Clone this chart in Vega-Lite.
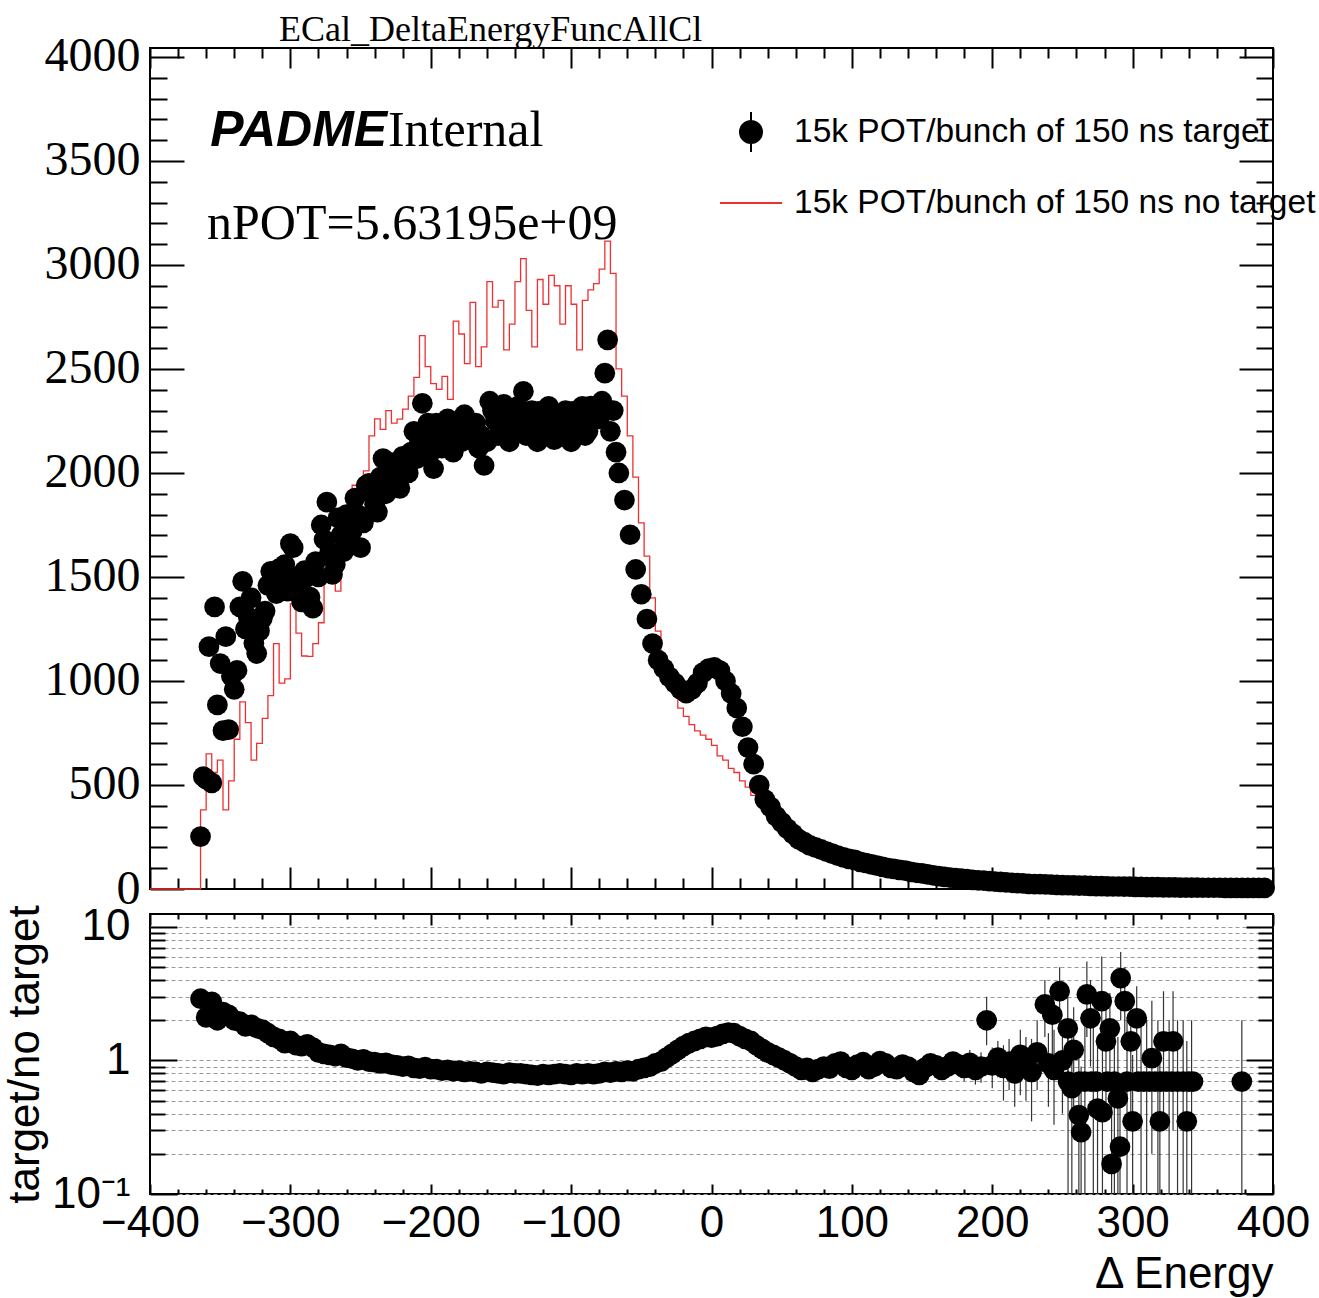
{
  "$schema": "https://vega.github.io/schema/vega-lite/v6.json",
  "background": "white",
  "padding": {"left": 2, "right": 2, "top": 10, "bottom": 0},
  "spacing": 25,
  "bounds": "flush",
  "config": {
    "view": {"stroke": "black", "strokeWidth": 2},
    "axis": {"tickColor": "black", "tickWidth": 2, "domain": false, "labelColor": "black", "titleColor": "black", "labelOverlap": false, "labelBound": false, "labelFlush": false}
  },
  "datasets": {
    "black": [
      {"x":-364,"v":252},{"x":-362,"v":540},{"x":-360,"v":528},{"x":-358,"v":1165},{"x":-356,"v":510},{"x":-354,"v":1356},{"x":-352,"v":885},{"x":-350,"v":1084},{"x":-348,"v":761},{"x":-346,"v":1213},{"x":-344,"v":766},{"x":-342,"v":1023},{"x":-340,"v":960},{"x":-338,"v":1051},{"x":-336,"v":1356},{"x":-334,"v":1479},{"x":-332,"v":1250},{"x":-330,"v":1308},{"x":-328,"v":1400},{"x":-326,"v":1180},{"x":-324,"v":1132},{"x":-322,"v":1241},{"x":-320,"v":1300},{"x":-318,"v":1336},{"x":-316,"v":1460},{"x":-314,"v":1527},{"x":-312,"v":1500},{"x":-310,"v":1420},{"x":-308,"v":1540},{"x":-306,"v":1479},{"x":-304,"v":1560},{"x":-302,"v":1432},{"x":-300,"v":1660},{"x":-298,"v":1641},{"x":-296,"v":1500},{"x":-294,"v":1465},{"x":-292,"v":1380},{"x":-290,"v":1530},
      {"x":-288,"v":1500},{"x":-286,"v":1403},{"x":-284,"v":1350},{"x":-282,"v":1574},{"x":-280,"v":1500},{"x":-278,"v":1750},{"x":-276,"v":1680},{"x":-274,"v":1860},{"x":-272,"v":1620},{"x":-270,"v":1512},{"x":-268,"v":1560},{"x":-266,"v":1784},{"x":-264,"v":1700},{"x":-262,"v":1622},{"x":-260,"v":1800},{"x":-258,"v":1700},{"x":-256,"v":1720},{"x":-254,"v":1879},{"x":-252,"v":1800},{"x":-250,"v":1641},{"x":-248,"v":1760},{"x":-246,"v":1941},{"x":-244,"v":1950},{"x":-242,"v":1900},{"x":-240,"v":1850},{"x":-238,"v":1812},{"x":-236,"v":1980},{"x":-234,"v":2069},{"x":-232,"v":1900},{"x":-230,"v":1960},{"x":-228,"v":2050},{"x":-226,"v":2010},{"x":-224,"v":2000},{"x":-222,"v":1926},{"x":-220,"v":2080},{"x":-218,"v":2050},{"x":-216,"v":2000},{"x":-214,"v":2100},{"x":-212,"v":2200},{"x":-210,"v":2069},{"x":-208,"v":2150},{"x":-206,"v":2335},{"x":-204,"v":2150},{"x":-202,"v":2240},{"x":-200,"v":2100},{"x":-198,"v":2021},{"x":-196,"v":2240},{"x":-194,"v":2178},{"x":-192,"v":2120},{"x":-190,"v":2200},{"x":-188,"v":2260},{"x":-186,"v":2170},{"x":-184,"v":2100},{"x":-182,"v":2230},{"x":-180,"v":2190},{"x":-178,"v":2150},{"x":-176,"v":2280},{"x":-174,"v":2240},{"x":-172,"v":2160},{"x":-170,"v":2200},{"x":-168,"v":2240},{"x":-166,"v":2120},{"x":-164,"v":2180},{"x":-162,"v":2036},{"x":-160,"v":2150},{"x":-158,"v":2345},{"x":-156,"v":2300},{"x":-154,"v":2250},{"x":-152,"v":2180},{"x":-150,"v":2273},{"x":-148,"v":2330},{"x":-146,"v":2200},{"x":-144,"v":2150},{"x":-142,"v":2226},{"x":-140,"v":2260},{"x":-138,"v":2320},{"x":-136,"v":2240},{"x":-134,"v":2392},{"x":-132,"v":2180},{"x":-130,"v":2250},{"x":-128,"v":2300},{"x":-126,"v":2226},{"x":-124,"v":2150},{"x":-122,"v":2297},{"x":-120,"v":2260},{"x":-118,"v":2180},{"x":-116,"v":2320},{"x":-114,"v":2226},{"x":-112,"v":2160},{"x":-110,"v":2260},{"x":-108,"v":2200},{"x":-106,"v":2273},{"x":-104,"v":2300},{"x":-102,"v":2200},{"x":-100,"v":2150},{"x":-98,"v":2297},{"x":-96,"v":2250},{"x":-94,"v":2226},{"x":-92,"v":2320},{"x":-90,"v":2180},{"x":-88,"v":2200},{"x":-86,"v":2321},{"x":-84,"v":2290},{"x":-82,"v":2260},{"x":-80,"v":2260},{"x":-78,"v":2345},{"x":-76,"v":2480},{"x":-74,"v":2640},{"x":-72,"v":2200},{"x":-70,"v":2300},{"x":-68,"v":2100},{"x":-66,"v":2000},{"x":-62,"v":1870},{"x":-58,"v":1703},{"x":-54,"v":1536},{"x":-50,"v":1417},{"x":-46,"v":1298},{"x":-42,"v":1180},{"x":-38,"v":1100},{"x":-34,"v":1060},{"x":-30,"v":1020},{"x":-26,"v":990},{"x":-22,"v":960},{"x":-18,"v":942},{"x":-14,"v":960},{"x":-10,"v":990},{"x":-6,"v":1040},{"x":-2,"v":1060},{"x":2,"v":1065},{"x":6,"v":1050},{"x":10,"v":1000},{"x":14,"v":940},{"x":18,"v":870},{"x":22,"v":780},{"x":26,"v":680},{"x":30,"v":600},{"x":34,"v":500},{"x":38,"v":430},{"x":42,"v":395},{"x":46,"v":350},{"x":50,"v":320},{"x":54,"v":290},{"x":58,"v":265},{"x":62,"v":240},{"x":66,"v":225},{"x":70,"v":210},{"x":74,"v":200},{"x":78,"v":190},{"x":82,"v":180},{"x":86,"v":170},{"x":90,"v":160},{"x":94,"v":152},{"x":98,"v":145},{"x":102,"v":140},{"x":106,"v":130},{"x":110,"v":125},{"x":114,"v":118},{"x":118,"v":112},{"x":122,"v":106},{"x":126,"v":100},{"x":130,"v":97},{"x":134,"v":92},{"x":138,"v":88},{"x":142,"v":82},{"x":146,"v":78},{"x":150,"v":75},{"x":154,"v":70},{"x":158,"v":66},{"x":162,"v":62},{"x":166,"v":58},{"x":170,"v":55},{"x":174,"v":52},{"x":178,"v":50},{"x":182,"v":47},{"x":186,"v":44},{"x":190,"v":42},{"x":194,"v":40},{"x":198,"v":38},{"x":202,"v":36},{"x":206,"v":34},{"x":210,"v":32},{"x":214,"v":30},{"x":218,"v":28},{"x":222,"v":27},{"x":226,"v":25},{"x":230,"v":24},{"x":234,"v":23},{"x":238,"v":22},{"x":242,"v":21},{"x":246,"v":20},{"x":250,"v":19},{"x":254,"v":18},{"x":258,"v":17},{"x":262,"v":16},{"x":266,"v":16},{"x":270,"v":15},{"x":274,"v":14},{"x":278,"v":14},{"x":282,"v":13},{"x":286,"v":12},{"x":290,"v":12},{"x":294,"v":11},{"x":298,"v":11},{"x":302,"v":10},{"x":306,"v":10},{"x":310,"v":9},{"x":314,"v":9},{"x":318,"v":9},{"x":322,"v":8},{"x":326,"v":8},{"x":330,"v":8},{"x":334,"v":7},{"x":338,"v":7},{"x":342,"v":7},{"x":346,"v":7},{"x":350,"v":6},{"x":354,"v":6},{"x":358,"v":6},{"x":362,"v":6},{"x":366,"v":5},{"x":370,"v":5},{"x":374,"v":5},{"x":378,"v":5},{"x":382,"v":5},{"x":386,"v":5},{"x":390,"v":5},{"x":394,"v":5}
    ],
    "red": [
      {"x":-400,"v":0},{"x":-366,"v":0},{"x":-362,"v":380},{"x":-358,"v":650},{"x":-354,"v":560},{"x":-350,"v":620},{"x":-346,"v":380},{"x":-342,"v":520},{"x":-338,"v":720},{"x":-334,"v":900},{"x":-330,"v":800},{"x":-326,"v":620},{"x":-322,"v":700},{"x":-318,"v":820},{"x":-314,"v":930},{"x":-310,"v":1180},{"x":-306,"v":990},{"x":-302,"v":1010},{"x":-298,"v":1370},{"x":-294,"v":1230},{"x":-290,"v":1120},{"x":-286,"v":1118},{"x":-282,"v":1180},{"x":-278,"v":1280},{"x":-274,"v":1688},{"x":-270,"v":1550},{"x":-266,"v":1432},{"x":-262,"v":1655},{"x":-258,"v":1760},{"x":-254,"v":1941},{"x":-250,"v":1900},{"x":-246,"v":2010},{"x":-242,"v":2178},{"x":-238,"v":2260},{"x":-234,"v":2210},{"x":-230,"v":2300},{"x":-226,"v":2240},{"x":-222,"v":2259},{"x":-218,"v":2307},{"x":-214,"v":2369},{"x":-210,"v":2460},{"x":-206,"v":2660},{"x":-202,"v":2511},{"x":-198,"v":2430},{"x":-194,"v":2402},{"x":-190,"v":2464},{"x":-186,"v":2354},{"x":-182,"v":2730},{"x":-178,"v":2668},{"x":-174,"v":2526},{"x":-170,"v":2820},{"x":-166,"v":2511},{"x":-162,"v":2606},{"x":-158,"v":2920},{"x":-154,"v":2797},{"x":-150,"v":2830},{"x":-146,"v":2592},{"x":-142,"v":2716},{"x":-138,"v":2920},{"x":-134,"v":3030},{"x":-130,"v":2782},{"x":-126,"v":2606},{"x":-122,"v":2930},{"x":-118,"v":2811},{"x":-114,"v":2950},{"x":-110,"v":2900},{"x":-106,"v":2716},{"x":-102,"v":2900},{"x":-98,"v":2811},{"x":-94,"v":2592},{"x":-90,"v":2830},{"x":-86,"v":2880},{"x":-82,"v":2910},{"x":-78,"v":2980},{"x":-74,"v":3115},{"x":-70,"v":2960},{"x":-66,"v":2500},{"x":-62,"v":2369},{"x":-58,"v":2178},{"x":-54,"v":1980},{"x":-50,"v":1760},{"x":-46,"v":1600},{"x":-42,"v":1400},{"x":-38,"v":1240},{"x":-34,"v":1120},{"x":-30,"v":1000},{"x":-26,"v":950},{"x":-22,"v":870},{"x":-18,"v":830},{"x":-14,"v":790},{"x":-10,"v":760},{"x":-6,"v":740},{"x":-2,"v":720},{"x":2,"v":690},{"x":6,"v":640},{"x":10,"v":620},{"x":14,"v":580},{"x":18,"v":560},{"x":22,"v":520},{"x":26,"v":490},{"x":30,"v":450},{"x":34,"v":430},{"x":38,"v":390},{"x":42,"v":350},{"x":46,"v":320},{"x":50,"v":300},{"x":54,"v":275},{"x":58,"v":260},{"x":62,"v":250},{"x":70,"v":225},{"x":78,"v":205},{"x":86,"v":185},{"x":94,"v":165},{"x":102,"v":155},{"x":110,"v":140},{"x":118,"v":125},{"x":126,"v":112},{"x":134,"v":104},{"x":142,"v":94},{"x":150,"v":85},{"x":158,"v":76},{"x":166,"v":67},{"x":174,"v":60},{"x":182,"v":54},{"x":190,"v":48},{"x":198,"v":42},{"x":206,"v":38},{"x":214,"v":34},{"x":222,"v":30},{"x":230,"v":27},{"x":238,"v":24},{"x":246,"v":22},{"x":254,"v":20},{"x":262,"v":18},{"x":270,"v":16},{"x":278,"v":15},{"x":286,"v":14},{"x":294,"v":13},{"x":302,"v":12},{"x":310,"v":11},{"x":318,"v":10},{"x":326,"v":9},{"x":334,"v":9},{"x":342,"v":8},{"x":350,"v":8},{"x":358,"v":7},{"x":366,"v":7},{"x":374,"v":6},{"x":382,"v":6},{"x":390,"v":6},{"x":398,"v":6},{"x":400,"v":6}
    ],
    "ratio": [
      {"x":-364,"r":2.9},{"x":-360,"r":2.1},{"x":-356,"r":2.75},{"x":-352,"r":2.0},{"x":-348,"r":2.3},{"x":-344,"r":2.2},{"x":-340,"r":2.0},{"x":-336,"r":1.95},{"x":-332,"r":1.8},{"x":-328,"r":1.85},{"x":-324,"r":1.75},{"x":-320,"r":1.7},{"x":-316,"r":1.6},{"x":-312,"r":1.5},{"x":-308,"r":1.45},{"x":-304,"r":1.35},{"x":-300,"r":1.4},{"x":-296,"r":1.3},{"x":-292,"r":1.28},{"x":-288,"r":1.32},{"x":-284,"r":1.25},{"x":-280,"r":1.15},{"x":-276,"r":1.12},{"x":-272,"r":1.1},{"x":-268,"r":1.08},{"x":-264,"r":1.12},{"x":-260,"r":1.05},{"x":-256,"r":1.03},{"x":-252,"r":1.0},{"x":-248,"r":1.02},{"x":-244,"r":0.98},{"x":-240,"r":0.97},{"x":-236,"r":0.95},{"x":-232,"r":0.96},{"x":-228,"r":0.93},{"x":-224,"r":0.92},{"x":-220,"r":0.9},{"x":-216,"r":0.91},{"x":-212,"r":0.88},{"x":-208,"r":0.87},{"x":-204,"r":0.89},{"x":-200,"r":0.86},{"x":-196,"r":0.86},{"x":-192,"r":0.84},{"x":-188,"r":0.85},{"x":-184,"r":0.83},{"x":-180,"r":0.84},{"x":-176,"r":0.82},{"x":-172,"r":0.83},{"x":-168,"r":0.82},{"x":-164,"r":0.8},{"x":-160,"r":0.82},{"x":-156,"r":0.81},{"x":-152,"r":0.8},{"x":-148,"r":0.79},{"x":-144,"r":0.81},{"x":-140,"r":0.8},{"x":-136,"r":0.8},{"x":-132,"r":0.79},{"x":-128,"r":0.78},{"x":-124,"r":0.77},{"x":-120,"r":0.79},{"x":-116,"r":0.78},{"x":-112,"r":0.79},{"x":-108,"r":0.8},{"x":-104,"r":0.79},{"x":-100,"r":0.78},{"x":-96,"r":0.8},{"x":-92,"r":0.79},{"x":-88,"r":0.8},{"x":-84,"r":0.79},{"x":-80,"r":0.8},{"x":-76,"r":0.82},{"x":-72,"r":0.81},{"x":-68,"r":0.83},{"x":-64,"r":0.82},{"x":-60,"r":0.84},{"x":-56,"r":0.83},{"x":-52,"r":0.86},{"x":-48,"r":0.88},{"x":-44,"r":0.9},{"x":-40,"r":0.95},{"x":-36,"r":0.98},{"x":-32,"r":1.05},{"x":-28,"r":1.12},{"x":-24,"r":1.2},{"x":-20,"r":1.28},{"x":-16,"r":1.35},{"x":-12,"r":1.4},{"x":-8,"r":1.45},{"x":-4,"r":1.5},{"x":0,"r":1.48},{"x":4,"r":1.52},{"x":8,"r":1.58},{"x":12,"r":1.62},{"x":16,"r":1.6},{"x":20,"r":1.52},{"x":24,"r":1.45},{"x":28,"r":1.4},{"x":32,"r":1.3},{"x":36,"r":1.22},{"x":40,"r":1.15},{"x":44,"r":1.1},{"x":48,"r":1.05},{"x":52,"r":1.0},{"x":56,"r":0.95},{"x":60,"r":0.9},{"x":64,"r":0.85},{"x":68,"r":0.88},{"x":72,"r":0.82},{"x":76,"r":0.86},{"x":80,"r":0.9},{"x":84,"r":0.87},{"x":88,"r":0.95},{"x":92,"r":0.98},{"x":96,"r":0.88},{"x":100,"r":0.85},{"x":104,"r":0.93},{"x":108,"r":0.97},{"x":112,"r":0.86},{"x":116,"r":0.9},{"x":120,"r":0.99},{"x":124,"r":0.95},{"x":128,"r":0.88},{"x":132,"r":0.86},{"x":136,"r":0.93},{"x":140,"r":0.9},{"x":144,"r":0.82},{"x":148,"r":0.78},{"x":152,"r":0.88},{"x":156,"r":0.95},{"x":160,"r":0.92},{"x":164,"r":0.85},{"x":168,"r":0.9},{"x":172,"r":0.98},{"x":176,"r":0.93},{"x":180,"r":0.88},{"x":184,"r":0.96},{"x":188,"r":0.85},{"x":192,"r":0.9},{"x":196,"r":2.0},{"x":200,"r":0.92},{"x":204,"r":1.05},{"x":208,"r":0.88},{"x":212,"r":0.98},{"x":216,"r":0.8},{"x":220,"r":1.1},{"x":224,"r":0.95},{"x":228,"r":0.82},{"x":232,"r":1.15},{"x":237.5,"r":2.63},{"x":240,"r":0.95},{"x":242.8,"r":2.2},{"x":244,"r":0.85},{"x":248,"r":3.3},{"x":250,"r":1.0},{"x":253.8,"r":1.74},{"x":254,"r":0.695},{"x":256.7,"r":0.62},{"x":258,"r":1.2},{"x":261.7,"r":0.39},{"x":263.3,"r":0.29},{"x":262,"r":0.695},{"x":266,"r":0.695},{"x":267.4,"r":3.13},{"x":270,"r":2.07},{"x":270.5,"r":0.695},{"x":274,"r":0.695},{"x":275,"r":0.436},{"x":278,"r":2.78},{"x":278.5,"r":0.41},{"x":281,"r":1.39},{"x":282,"r":0.695},{"x":283.8,"r":1.74},{"x":285,"r":0.168},{"x":287,"r":0.695},{"x":289.5,"r":0.52},{"x":291,"r":0.226},{"x":291.5,"r":4.14},{"x":294.4,"r":2.78},{"x":296,"r":0.695},{"x":298.7,"r":1.39},{"x":300,"r":0.35},{"x":302.9,"r":2.07},{"x":304,"r":0.695},{"x":308,"r":0.695},{"x":312,"r":0.695},{"x":313.7,"r":1.04},{"x":316,"r":0.695},{"x":319.4,"r":0.35},{"x":320,"r":0.695},{"x":322,"r":1.39},{"x":324,"r":0.695},{"x":328,"r":0.695},{"x":328.8,"r":1.39},{"x":332,"r":0.695},{"x":336,"r":0.695},{"x":338.6,"r":0.35},{"x":340,"r":0.695},{"x":343,"r":0.695},{"x":377.8,"r":0.695}
    ],
    "ratioerr": [
      {"x":160,"lo":0.75,"hi":1.05},{"x":164,"lo":0.72,"hi":1.0},{"x":168,"lo":0.76,"hi":1.06},{"x":172,"lo":0.82,"hi":1.16},{"x":176,"lo":0.76,"hi":1.12},{"x":180,"lo":0.7,"hi":1.08},{"x":184,"lo":0.78,"hi":1.2},{"x":188,"lo":0.66,"hi":1.08},{"x":192,"lo":0.68,"hi":1.15},{"x":196,"lo":1.3,"hi":3.0},{"x":200,"lo":0.62,"hi":1.25},{"x":204,"lo":0.75,"hi":1.4},{"x":208,"lo":0.5,"hi":1.3},{"x":212,"lo":0.6,"hi":1.45},{"x":216,"lo":0.45,"hi":1.25},{"x":220,"lo":0.55,"hi":1.7},{"x":224,"lo":0.5,"hi":1.5},{"x":228,"lo":0.35,"hi":1.45},{"x":232,"lo":0.6,"hi":2.0},{"x":237.5,"lo":1.5,"hi":4.0},{"x":240,"lo":0.45,"hi":1.6},{"x":242.8,"lo":1.1,"hi":3.6},{"x":244,"lo":0.33,"hi":1.7},{"x":248,"lo":1.8,"hi":5.0},{"x":250,"lo":0.4,"hi":1.9},{"x":253.8,"lo":0.8,"hi":3.0},{"x":254,"lo":0.1,"hi":2.0},{"x":256.7,"lo":0.1,"hi":1.8},{"x":258,"lo":0.45,"hi":2.5},{"x":261.7,"lo":0.1,"hi":1.1},{"x":263.3,"lo":0.1,"hi":0.9},{"x":266,"lo":0.1,"hi":2.0},{"x":267.4,"lo":1.5,"hi":5.5},{"x":270,"lo":0.9,"hi":4.0},{"x":272,"lo":0.1,"hi":2.0},{"x":275,"lo":0.1,"hi":1.3},{"x":278,"lo":1.2,"hi":6.0},{"x":278.5,"lo":0.1,"hi":1.2},{"x":281,"lo":0.45,"hi":3.0},{"x":283.8,"lo":0.6,"hi":3.2},{"x":285,"lo":0.1,"hi":0.7},{"x":287,"lo":0.1,"hi":2.0},{"x":289.5,"lo":0.1,"hi":1.5},{"x":291,"lo":0.1,"hi":0.8},{"x":291.5,"lo":2.0,"hi":6.5},{"x":294.4,"lo":1.2,"hi":5.0},{"x":296,"lo":0.1,"hi":2.0},{"x":298.7,"lo":0.4,"hi":3.0},{"x":300,"lo":0.1,"hi":1.1},{"x":302.9,"lo":0.8,"hi":3.6},{"x":306,"lo":0.1,"hi":2.0},{"x":310,"lo":0.1,"hi":2.0},{"x":313.7,"lo":0.2,"hi":2.8},{"x":318,"lo":0.1,"hi":2.0},{"x":319.4,"lo":0.1,"hi":1.2},{"x":322,"lo":0.3,"hi":3.3},{"x":326,"lo":0.1,"hi":2.0},{"x":328.8,"lo":0.3,"hi":3.3},{"x":332,"lo":0.1,"hi":2.0},{"x":336,"lo":0.1,"hi":2.0},{"x":338.6,"lo":0.1,"hi":1.4},{"x":342,"lo":0.1,"hi":2.0},{"x":377.8,"lo":0.1,"hi":2.0}
    ]
  },
  "vconcat": [
    {
      "width": 1123,
      "height": 841,
      "title": {"text": "ECal_DeltaEnergyFuncAllCl", "font": "Liberation Serif", "fontSize": 36, "fontWeight": "normal", "color": "black", "anchor": "start", "dx": 235, "offset": -16},
      "layer": [
        {
          "data": {"name": "red"},
          "mark": {"type": "line", "interpolate": "step", "strokeWidth": 1.3},
          "encoding": {
            "x": {"field": "x", "type": "quantitative", "scale": {"domain": [-400, 400], "nice": false, "zero": false},
                  "axis": {"orient": "bottom", "title": null, "labels": false, "grid": false,
                           "values": [-400,-380,-360,-340,-320,-300,-280,-260,-240,-220,-200,-180,-160,-140,-120,-100,-80,-60,-40,-20,0,20,40,60,80,100,120,140,160,180,200,220,240,260,280,300,320,340,360,380,400],
                           "tickSize": {"condition": {"test": "datum.value % 100 === 0", "value": -22}, "value": -11}}},
            "y": {"field": "v", "type": "quantitative", "scale": {"domain": [0, 4043], "nice": false},
                  "axis": {"orient": "left", "title": null, "grid": false, "format": "d",
                           "values": [0,100,200,300,400,500,600,700,800,900,1000,1100,1200,1300,1400,1500,1600,1700,1800,1900,2000,2100,2200,2300,2400,2500,2600,2700,2800,2900,3000,3100,3200,3300,3400,3500,3600,3700,3800,3900,4000],
                           "labelExpr": "datum.value % 500 === 0 ? datum.label : ''",
                           "labelFont": "Liberation Serif", "labelFontSize": 48, "labelPadding": 44,
                           "tickSize": {"condition": {"test": "datum.value % 500 === 0", "value": -34}, "value": -17}}},
            "color": {"datum": "15k POT/bunch of 150 ns no target", "type": "nominal",
                      "scale": {"domain": ["15k POT/bunch of 150 ns target", "15k POT/bunch of 150 ns no target"], "range": ["black", "#f03030"]},
                      "legend": {"orient": "none", "legendX": 569, "legendY": 52, "title": null, "padding": 0,
                                 "labelFont": "Liberation Sans", "labelFontSize": 33.5, "labelColor": "black", "labelOffset": 11, "labelLimit": 0, "rowPadding": 15,
                                 "encode": {"symbols": {"update": {
                                   "shape": {"signal": "datum.value === '15k POT/bunch of 150 ns target' ? 'M0,-1L0,1M-0.55,0A0.55,0.55 0 1,0 0.55,0A0.55,0.55 0 1,0 -0.55,0Z' : 'stroke'"},
                                   "size": {"signal": "datum.value === '15k POT/bunch of 150 ns target' ? 1600 : 3844"},
                                   "fill": {"signal": "datum.value === '15k POT/bunch of 150 ns target' ? 'black' : 'transparent'"},
                                   "stroke": {"signal": "datum.value === '15k POT/bunch of 150 ns target' ? 'black' : '#f03030'"},
                                   "strokeWidth": {"value": 2},
                                   "opacity": {"value": 1}
                                 }}}}}
          }
        },
        {
          "data": {"name": "black"},
          "mark": {"type": "point", "filled": true, "shape": "circle", "size": 430, "opacity": 1},
          "encoding": {
            "x": {"field": "x", "type": "quantitative",
                  "axis": {"orient": "top", "title": null, "labels": false, "grid": false,
                           "values": [-400,-380,-360,-340,-320,-300,-280,-260,-240,-220,-200,-180,-160,-140,-120,-100,-80,-60,-40,-20,0,20,40,60,80,100,120,140,160,180,200,220,240,260,280,300,320,340,360,380,400],
                           "tickSize": {"condition": {"test": "datum.value % 100 === 0", "value": -20}, "value": -10}}},
            "y": {"field": "v", "type": "quantitative",
                  "axis": {"orient": "right", "title": null, "labels": false, "grid": false,
                           "values": [0,100,200,300,400,500,600,700,800,900,1000,1100,1200,1300,1400,1500,1600,1700,1800,1900,2000,2100,2200,2300,2400,2500,2600,2700,2800,2900,3000,3100,3200,3300,3400,3500,3600,3700,3800,3900,4000],
                           "tickSize": {"condition": {"test": "datum.value % 500 === 0", "value": -34}, "value": -17}}},
            "color": {"datum": "15k POT/bunch of 150 ns target", "type": "nominal"}
          }
        },
        {
          "data": {"values": [{}]},
          "mark": {"type": "text", "text": "PADME", "font": "Liberation Sans", "fontSize": 50, "fontWeight": "bold", "fontStyle": "italic", "align": "left", "baseline": "alphabetic", "color": "black"},
          "encoding": {"x": {"datum": -357, "type": "quantitative", "axis": null}, "y": {"datum": 3570, "type": "quantitative", "axis": null}}
        },
        {
          "data": {"values": [{}]},
          "mark": {"type": "text", "text": "Internal", "font": "Liberation Serif", "fontSize": 50, "align": "left", "baseline": "alphabetic", "color": "black"},
          "encoding": {"x": {"datum": -230.5, "type": "quantitative", "axis": null}, "y": {"datum": 3570, "type": "quantitative", "axis": null}}
        },
        {
          "data": {"values": [{}]},
          "mark": {"type": "text", "text": "nPOT=5.63195e+09", "font": "Liberation Serif", "fontSize": 50, "align": "left", "baseline": "alphabetic", "color": "black"},
          "encoding": {"x": {"datum": -359.4, "type": "quantitative", "axis": null}, "y": {"datum": 3125, "type": "quantitative", "axis": null}}
        }
      ],
      "resolve": {"axis": {"x": "independent", "y": "independent"}}
    },
    {
      "width": 1123,
      "height": 280,
      "layer": [
        {
          "data": {"name": "ratioerr"},
          "mark": {"type": "rule", "color": "#333333", "strokeWidth": 1.2, "clip": true},
          "encoding": {
            "x": {"field": "x", "type": "quantitative", "scale": {"domain": [-400, 400], "nice": false, "zero": false},
                  "axis": {"orient": "bottom", "title": "Δ Energy", "titleFont": "Liberation Sans", "titleFontSize": 44, "titleFontWeight": "normal", "titleAnchor": "end", "titlePadding": 2,
                           "grid": false, "format": "d",
                           "values": [-400,-380,-360,-340,-320,-300,-280,-260,-240,-220,-200,-180,-160,-140,-120,-100,-80,-60,-40,-20,0,20,40,60,80,100,120,140,160,180,200,220,240,260,280,300,320,340,360,380,400],
                           "labelExpr": "datum.value % 100 === 0 ? datum.label : ''",
                           "labelFont": "Liberation Sans", "labelFontSize": 44, "labelPadding": 17,
                           "tickSize": {"condition": {"test": "datum.value % 100 === 0", "value": -10}, "value": -5}}},
            "y": {"field": "lo", "type": "quantitative", "scale": {"type": "log", "domain": [0.1, 12.5], "nice": false},
                  "axis": {"orient": "left", "title": "target/no target", "titleFont": "Liberation Sans", "titleFontSize": 44, "titleFontWeight": "normal", "titlePadding": 4,
                           "grid": true, "gridColor": "#999999", "gridDash": [4, 3], "gridWidth": 1,
                           "values": [0.1,0.2,0.3,0.4,0.5,0.6,0.7,0.8,0.9,1,2,3,4,5,6,7,8,9,10],
                           "labelExpr": "datum.value === 10 ? '10' : datum.value === 1 ? '1' : datum.value === 0.1 ? '10⁻¹' : ''",
                           "labelFont": "Liberation Sans", "labelFontSize": 44, "labelPadding": 47,
                           "tickSize": {"condition": {"test": "datum.value === 1 || datum.value === 10 || datum.value === 0.1", "value": -27}, "value": -15}}},
            "y2": {"field": "hi"}
          }
        },
        {
          "data": {"name": "ratio"},
          "mark": {"type": "point", "filled": true, "shape": "circle", "size": 430, "opacity": 1, "color": "black", "clip": true},
          "encoding": {
            "x": {"field": "x", "type": "quantitative",
                  "axis": {"orient": "top", "title": null, "labels": false, "grid": false,
                           "values": [-400,-380,-360,-340,-320,-300,-280,-260,-240,-220,-200,-180,-160,-140,-120,-100,-80,-60,-40,-20,0,20,40,60,80,100,120,140,160,180,200,220,240,260,280,300,320,340,360,380,400],
                           "tickSize": {"condition": {"test": "datum.value % 100 === 0", "value": -11}, "value": -5}}},
            "y": {"field": "r", "type": "quantitative",
                  "axis": {"orient": "right", "title": null, "labels": false, "grid": false,
                           "values": [0.1,0.2,0.3,0.4,0.5,0.6,0.7,0.8,0.9,1,2,3,4,5,6,7,8,9,10],
                           "tickSize": {"condition": {"test": "datum.value === 1 || datum.value === 10 || datum.value === 0.1", "value": -27}, "value": -15}}}
          }
        }
      ],
      "resolve": {"axis": {"x": "independent", "y": "independent"}}
    }
  ]
}
